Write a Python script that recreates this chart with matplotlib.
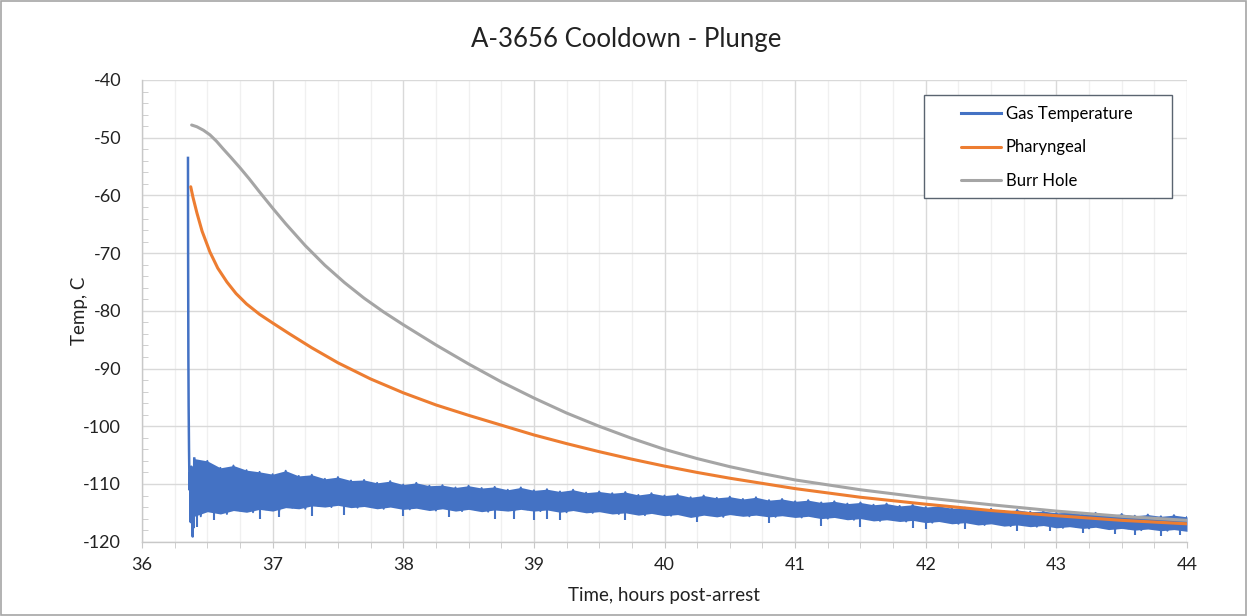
import matplotlib.pyplot as plt
from matplotlib.patches import Rectangle
from matplotlib.ticker import MultipleLocator
import numpy as np

plt.rcParams['font.family'] = ['Lato', 'DejaVu Sans']
plt.rcParams['axes.unicode_minus'] = False

blue = '#4472C4'
orange = '#ED7D31'
grey = '#A5A5A5'

# gas temperature: initial spike, then noisy band (upper / lower edge every 0.1 h)
gas_start_t = [36.352, 36.353, 36.355, 36.357, 36.360, 36.364, 36.368, 36.373, 36.378, 36.383, 36.388, 36.392, 36.396, 36.400]
gas_start_v = [-53.5, -70.0, -88.0, -96.5, -104.0, -111.0, -108.0, -116.6, -107.0, -112.0, -119.1, -110.0, -117.5, -105.6]

gas_t = np.round(np.arange(36.4, 44.01, 0.1), 2)
gas_hi = [-105.6, -106.0, -107.2, -106.8, -107.6, -107.9, -108.3, -107.7, -108.6, -108.4,
          -109.1, -108.8, -109.4, -109.3, -109.8, -109.5, -110.1, -109.8, -110.3, -110.2,
          -110.6, -110.3, -110.7, -110.5, -111.0, -110.6, -111.1, -110.9, -111.3, -111.0,
          -111.5, -111.3, -111.6, -111.4, -111.9, -111.6, -112.0, -111.8, -112.3, -112.0,
          -112.4, -112.2, -112.6, -112.3, -112.8, -112.6, -113.0, -112.8, -113.2, -113.0,
          -113.4, -113.2, -113.6, -113.4, -113.8, -113.6, -114.0, -113.8, -114.2, -114.1,
          -114.5, -114.3, -114.7, -114.5, -114.8, -114.7, -115.0, -114.9, -115.2, -115.0,
          -115.4, -115.2, -115.5, -115.3, -115.6, -115.4, -115.7]
gas_lo = [-115.6, -114.8, -115.2, -114.6, -114.9, -114.4, -114.7, -114.1, -114.3, -113.8,
          -114.0, -113.7, -114.1, -113.9, -114.3, -114.0, -114.4, -114.2, -114.6, -114.3,
          -114.7, -114.4, -114.8, -114.5, -114.7, -114.4, -114.7, -114.5, -114.9, -114.6,
          -115.0, -114.8, -115.2, -115.0, -115.4, -115.1, -115.5, -115.3, -115.8, -115.4,
          -115.7, -115.3, -115.6, -115.4, -115.7, -115.5, -115.8, -115.6, -116.0, -115.8,
          -116.2, -116.0, -116.4, -116.2, -116.5, -116.3, -116.7, -116.5, -116.9, -116.7,
          -117.1, -116.9, -117.3, -117.1, -117.4, -117.2, -117.6, -117.4, -117.7, -117.5,
          -117.9, -117.7, -118.0, -117.8, -118.1, -117.9, -118.2]

spike_t = [36.42, 36.55, 36.9, 37.05, 37.3, 37.55, 38.0, 38.35, 38.7, 38.85, 39.0, 39.1, 39.2,
           39.7, 40.25, 40.8, 41.2, 41.5, 41.9, 42.0, 42.3, 42.7, 42.95, 43.2, 43.45, 43.6, 43.8, 43.95]
spike_v = [-117.5, -116.2, -116.0, -115.8, -115.5, -115.3, -115.6, -115.8, -116.0, -116.0, -116.2, -116.1, -116.3,
           -116.2, -116.5, -116.7, -117.3, -117.5, -117.6, -117.8, -117.8, -118.2, -118.2, -118.5, -118.7, -118.8, -119.0, -118.9]

phar_t = [36.373, 36.39, 36.42, 36.46, 36.52, 36.58, 36.65, 36.72, 36.8, 36.9, 37.0, 37.13, 37.3, 37.5, 37.75,
          38.0, 38.25, 38.5, 38.75, 39.0, 39.25, 39.5, 39.75, 40.0, 40.25, 40.5, 41.0, 41.5, 42.0, 42.5, 43.0, 43.5, 44.0]
phar_v = [-58.5, -60.3, -63.0, -66.2, -69.8, -72.6, -75.0, -77.0, -78.8, -80.6, -82.1, -84.0, -86.4, -89.0, -91.8,
          -94.2, -96.3, -98.1, -99.8, -101.5, -103.0, -104.4, -105.7, -106.9, -108.0, -109.0, -110.8, -112.3, -113.5, -114.6, -115.5, -116.3, -116.9]

burr_t = [36.38, 36.42, 36.47, 36.52, 36.57, 36.62, 36.68, 36.75, 36.82, 36.9, 37.0, 37.1, 37.25, 37.4, 37.55, 37.7, 37.85,
          38.0, 38.25, 38.5, 38.75, 39.0, 39.25, 39.5, 39.75, 40.0, 40.25, 40.5, 40.75, 41.0, 41.5, 42.0, 42.5, 43.0, 43.5, 44.0]
burr_v = [-47.8, -48.1, -48.7, -49.5, -50.6, -51.9, -53.4, -55.2, -57.1, -59.4, -62.2, -64.9, -68.7, -72.1, -75.1, -77.8, -80.2,
          -82.4, -85.9, -89.2, -92.3, -95.1, -97.7, -100.0, -102.1, -104.0, -105.6, -107.0, -108.2, -109.3, -111.0, -112.4, -113.6, -114.7, -115.6, -116.3]

fig = plt.figure(figsize=(12.47, 6.16), dpi=100)
ax = fig.add_axes([142 / 1247, 1 - 541.7 / 616, 1045 / 1247, 461.7 / 616])

# gas band
ax.plot(gas_start_t, gas_start_v, color=blue, lw=1.8, zorder=3)
ax.fill_between(gas_t, gas_lo, gas_hi, color=blue, lw=0, zorder=3)
zz_t = np.column_stack([gas_t, gas_t + 0.05]).ravel()
zz_v = np.column_stack([gas_hi, gas_lo]).ravel()
ax.plot(zz_t, zz_v, color=blue, lw=1.4, zorder=3, label='Gas Temperature')
ax.vlines(spike_t, spike_v, np.interp(spike_t, gas_t, gas_lo) + 0.5, color=blue, lw=1.5, zorder=3)

ax.plot(phar_t, phar_v, color=orange, lw=2.2, zorder=4, label='Pharyngeal', solid_capstyle='round')
ax.plot(burr_t, burr_v, color=grey, lw=2.2, zorder=5, label='Burr Hole', solid_capstyle='round')

ax.set_xlim(36, 44)
ax.set_ylim(-120, -40)
ax.xaxis.set_major_locator(MultipleLocator(1))
ax.xaxis.set_minor_locator(MultipleLocator(0.25))
ax.yaxis.set_major_locator(MultipleLocator(10))
ax.yaxis.set_minor_locator(MultipleLocator(2))

ax.grid(which='major', color='#d9d9d9', lw=1.0, zorder=0)
ax.grid(which='minor', axis='x', color='#f0f0f0', lw=1.0, zorder=0)
ax.set_axisbelow(True)
for s in ['top', 'right']:
    ax.spines[s].set_visible(False)
for s in ['left', 'bottom']:
    ax.spines[s].set_color('#c8c8c8')
    ax.spines[s].set_linewidth(1.0)

ax.tick_params(axis='x', which='both', direction='out', length=4, color='#c8c8c8', labelsize=13, pad=7, labelcolor='#222222')
ax.tick_params(axis='y', which='major', length=0, labelsize=13, pad=15, labelcolor='#222222')
ax.tick_params(axis='y', which='minor', direction='in', length=4, color='#c8c8c8')

# legend box
ax.add_patch(Rectangle((0.748, 0.7438), 0.2376, 0.2237, transform=ax.transAxes,
                       facecolor='white', edgecolor='#5a6470', lw=1.0, zorder=8))
leg = ax.legend(loc='upper left', bbox_to_anchor=(0.7837, 0.944), frameon=False,
                fontsize=12, handlelength=2.4, handletextpad=0.3, borderpad=0,
                labelspacing=1.05, borderaxespad=0)
leg.set_zorder(9)
for h in leg.get_lines():
    h.set_linewidth(2.2)

fig.text(626 / 1247, 1 - 40 / 616, 'A-3656 Cooldown - Plunge', ha='center', va='center', fontsize=18.5, color='#222222')
fig.text(80 / 1247, 1 - 311 / 616, 'Temp, C', rotation=90, ha='center', va='center', fontsize=13.5, color='#222222')
fig.text(664 / 1247, 1 - 596 / 616, 'Time, hours post-arrest', ha='center', va='center', fontsize=13.5, color='#222222')

fig.patches.append(Rectangle((0.001, 0.002), 0.998, 0.996, transform=fig.transFigure,
                             fill=False, edgecolor='#a6a6a6', lw=1.2))

fig.savefig('out.png', dpi=100)
